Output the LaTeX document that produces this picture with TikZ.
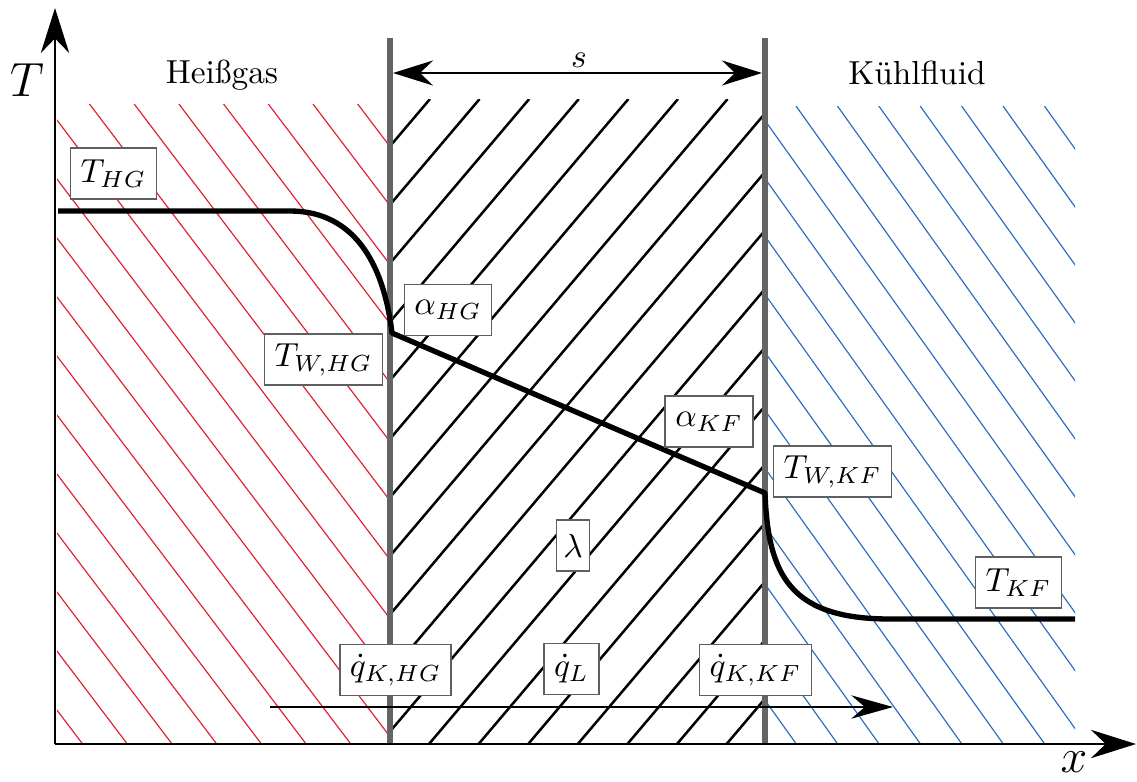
\documentclass[tikz,border=0pt]{standalone}
\usepackage{fontspec}
\usetikzlibrary{arrows.meta}
\definecolor{hgred}{RGB}{226,30,50}
\definecolor{kfblue}{RGB}{40,110,190}
\definecolor{wallgray}{RGB}{100,100,100}
\definecolor{boxgray}{RGB}{95,95,95}
\begin{document}
\begin{tikzpicture}[x=0.3pt,y=-0.3pt,
  lbl/.style={draw=boxgray, line width=0.45pt, fill=white, minimum height=15.3pt, inner xsep=3pt, inner ysep=0pt},
  axisline/.style={line width=0.85pt, -{Stealth[length=13.5pt,width=8.5pt]}},
  redhatch/.style={hgred, line width=0.35pt},
  bluehatch/.style={kfblue, line width=0.35pt},
  blackhatch/.style={black, line width=0.75pt},
  wall/.style={wallgray, line width=1.9pt},
  tempcurve/.style={black, line width=1.6pt, line join=round},
  dimarrow/.style={line width=0.65pt, {Stealth[length=12pt,width=7.5pt]}-{Stealth[length=12pt,width=7.5pt]}},
  flowarrow/.style={line width=0.65pt, -{Stealth[length=12.5pt,width=7pt]}},
  plain/.style={inner sep=0pt}
]
\useasboundingbox (0,0) rectangle (1137,781);

% hatching
\begin{scope}
  \clip (57,104) rectangle (390,744);
  \foreach \k in {-12,...,7} \draw[redhatch] ({89.5+44.7*\k},104) -- ++(600,792);
\end{scope}
\begin{scope}
  \clip (390,99) rectangle (765,744);
  \foreach \k in {-1,...,18} \draw[blackhatch] ({430+49.6*\k},99) -- ++(-600,708);
\end{scope}
\begin{scope}
  \clip (765,106) rectangle (1075,744);
  \foreach \k in {-12,...,7} \draw[bluehatch] ({796+41.4*\k},106) -- ++(500,700);
\end{scope}

% walls
\coordinate (w1t) at (390,38);
\coordinate (w1b) at (390,744);
\coordinate (w2t) at (765,38);
\coordinate (w2b) at (765,744);
\draw[wall] (w1t) -- (w1b);
\draw[wall] (w2t) -- (w2b);

% axes
\coordinate (o) at (55,744);
\coordinate (ytip) at (55,8);
\coordinate (xtip) at (1136,744);
\draw[axisline] (o) -- (ytip);
\draw[axisline] (o) -- (xtip);
\node[plain] (Tax) at (27,80) {\Large $T$};
\node[plain] (xax) at (1074,762) {\Large $x$};

% region titles
\node[plain] (hg) at (222,75) {Heißgas};
\node[plain] (kf) at (917,73) {Kühlfluid};

% thickness arrow
\coordinate (sl) at (393,73);
\coordinate (sr) at (762,73);
\draw[dimarrow] (sl) -- (sr);
\node[plain] (s) at (579,60) {$s$};

% temperature curve
\coordinate (p0) at (58,211);
\coordinate (p1) at (290,211);
\coordinate (pHG) at (392,333);
\coordinate (pKF) at (765,493);
\coordinate (p2) at (890,619);
\coordinate (p3) at (1075,619);
\draw[tempcurve] (p0) -- (p1) .. controls (345,211) and (382,250) .. (pHG) -- (pKF)
  .. controls (768,575) and (790,619) .. (p2) -- (p3);

% heat flow arrow
\coordinate (fa) at (270,707);
\coordinate (fb) at (893,707);
\draw[flowarrow] (fa) -- (fb);

% labels
\node[lbl] (THG) at (113.5,173.5) {$T_{HG}$};
\node[lbl] (aHG) at (448,310) {$\alpha_{HG}$};
\node[lbl] (TWHG) at (323.5,359.5) {$T_{W,HG}$};
\node[lbl] (aKF) at (709,421.5) {$\alpha_{KF}$};
\node[lbl] (TWKF) at (832.5,471.5) {$T_{W,KF}$};
\node[lbl, inner xsep=2pt] (lam) at (573,545.5) {$\lambda$};
\node[lbl] (TKF) at (1018.5,582.5) {$T_{KF}$};
\node[lbl] (qKHG) at (395.5,670) {$\dot{q}_{K,HG}$};
\node[lbl] (qL) at (571.5,669) {$\dot{q}_L$};
\node[lbl] (qKKF) at (755.5,670) {$\dot{q}_{K,KF}$};
\end{tikzpicture}
\end{document}
